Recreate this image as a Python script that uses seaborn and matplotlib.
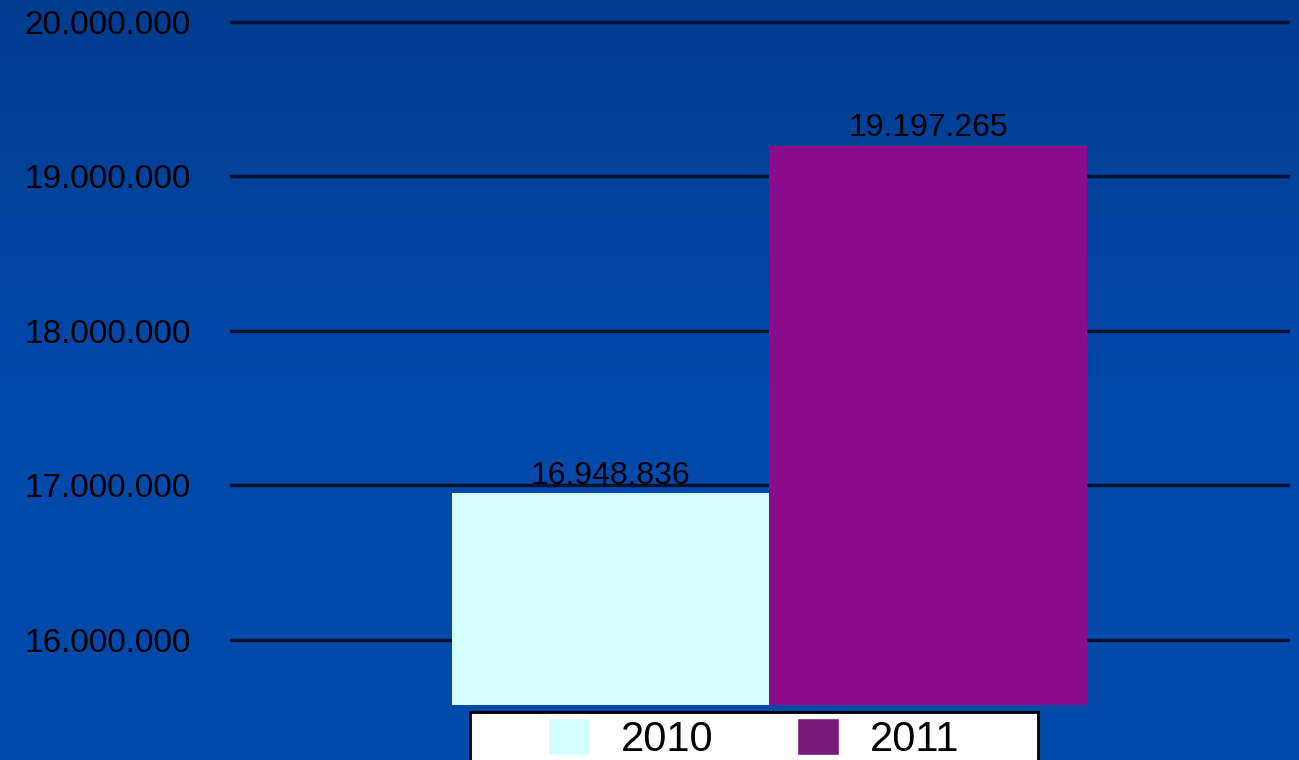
import numpy as np
import pandas as pd
import matplotlib
matplotlib.use('Agg')
import matplotlib.pyplot as plt
from matplotlib.patches import Rectangle
import seaborn as sns

years = ['2010', '2011']
values = [16948836, 19197265]
colors = ['#D4FEFE', '#8A0C8A']
legend_colors = ['#D4FEFE', '#7B1A7B']
yticks = [16000000, 17000000, 18000000, 19000000, 20000000]

def fmt(v):
    return f'{v:,.0f}'.replace(',', '.')

df = pd.DataFrame({'year': years, 'value': values})

sns.set_style('white')
plt.rcParams['font.family'] = ['Liberation Sans', 'DejaVu Sans']
plt.rcParams['text.color'] = 'black'

fig = plt.figure(figsize=(12.99, 7.6), dpi=100)
fig.patch.set_facecolor('#0348A8')

# blue gradient background
bg = fig.add_axes([0, 0, 1, 1], zorder=-10)
grad = np.linspace(0, 1, 256).reshape(-1, 1)
cmap = matplotlib.colors.LinearSegmentedColormap.from_list('bg', ['#003C8E', '#0349AA', '#044AAB'])
bg.imshow(grad, aspect='auto', cmap=cmap, extent=[0, 1, 0, 1])
bg.axis('off')

ax = fig.add_axes([0.177, 0.0724, 0.816, 0.9092])
ax.set_facecolor('none')
sns.barplot(data=df, x='year', y='value', hue='year', palette=colors, saturation=1,
            width=1.0, ax=ax, legend=False, zorder=3)

for bar in ax.patches:
    bar.set_linewidth(0)

ax.bar_label(ax.containers[0], labels=[fmt(values[0])], fontsize=23, color='black', padding=2)
ax.bar_label(ax.containers[1], labels=[fmt(values[1])], fontsize=23, color='black', padding=2)

ax.set_ylim(15580000, 20050000)
ax.set_xlim(-1.2, 2.14)
ax.set_yticks(yticks)
ax.set_yticklabels([fmt(v) for v in yticks], fontsize=24, color='black')
ax.tick_params(axis='y', length=0, pad=28)
ax.set_xticks([])
ax.set_xlabel('')
ax.set_ylabel('')
for s in ax.spines.values():
    s.set_visible(False)
ax.yaxis.grid(True, color='#00122E', linewidth=2.5, zorder=1)
ax.set_axisbelow(True)

# legend box
fig.patches.append(Rectangle((470 / 1299, -0.05), (1038 - 470) / 1299, 1 - 712 / 760 + 0.05,
                             transform=fig.transFigure, facecolor='white',
                             edgecolor='black', linewidth=2, zorder=5))
handles = [Rectangle((0, 0), 1, 1, facecolor=c) for c in legend_colors]
leg = fig.legend(handles, years, loc='center', bbox_to_anchor=(754 / 1299, 1 - 739 / 760),
                 ncol=2, frameon=False, fontsize=30, handlelength=1.0, handleheight=1.0,
                 handletextpad=0.75, columnspacing=2.0, borderpad=0, labelcolor='black')
leg.set_zorder(6)

fig.savefig('out.png', dpi=100, facecolor=fig.get_facecolor())
